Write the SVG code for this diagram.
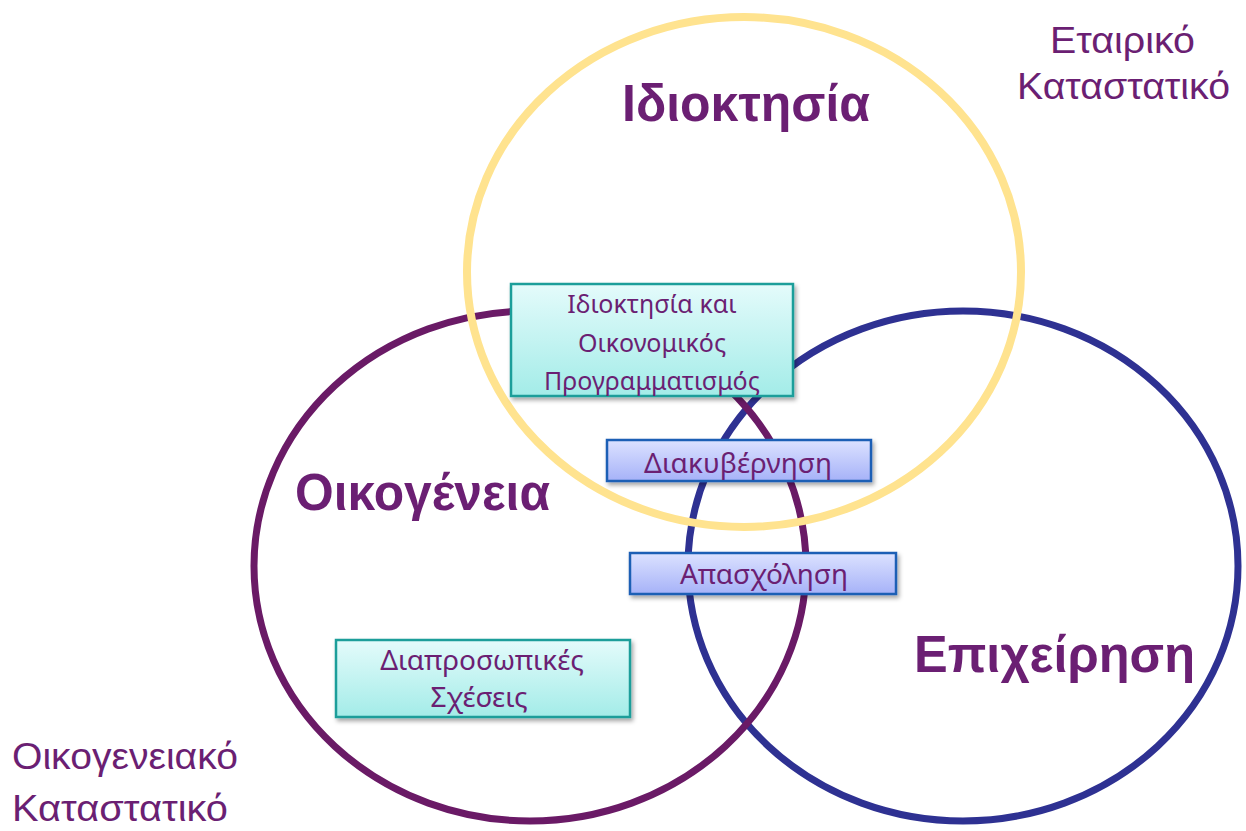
<svg xmlns="http://www.w3.org/2000/svg" width="1246" height="831" viewBox="0 0 1246 831">
<style>
.ring{fill:none}
.big{font-family:"Liberation Sans",Arial,sans-serif;font-weight:bold;font-size:52px;fill:#6B1F73}
.corner{font-family:"Liberation Sans",Arial,sans-serif;font-size:36px;fill:#6B1F73}
.bt{font-family:"Noto Sans","Open Sans",sans-serif;font-size:25px;fill:#6B1F73;text-anchor:middle}
.bt2{font-family:"Noto Sans","Open Sans",sans-serif;font-size:28px;fill:#6B1F73;text-anchor:middle}
.teal{fill:url(#gTeal);stroke:#1A9E9A;stroke-width:2.5;filter:url(#sh)}
.blu{fill:url(#gBlue);stroke:#1F5FB5;stroke-width:2.5;filter:url(#sh)}
</style>
<defs>
<linearGradient id="gTeal" x1="0" y1="0" x2="0" y2="1"><stop offset="0" stop-color="#E4FBFB"/><stop offset="1" stop-color="#A3ECE8"/></linearGradient>
<linearGradient id="gBlue" x1="0" y1="0" x2="0" y2="1"><stop offset="0" stop-color="#DCE2FF"/><stop offset="1" stop-color="#A6B2F8"/></linearGradient>
<filter id="sh" x="-10%" y="-20%" width="130%" height="150%"><feDropShadow dx="2" dy="3" stdDeviation="2" flood-color="#000" flood-opacity="0.35"/></filter>
</defs>
<rect width="1246" height="831" fill="#fff"/>
<g id="circles">
<ellipse id="c-business" class="ring" cx="963" cy="566" rx="275" ry="255" stroke="#2E3192" stroke-width="7"/>
<ellipse id="c-family" class="ring" cx="530" cy="566" rx="276" ry="255" stroke="#6A1A66" stroke-width="7"/>
<ellipse id="c-ownership" class="ring" cx="744" cy="272" rx="277" ry="255" stroke="#FFE38F" stroke-width="8"/>
</g>
<g id="labels">
<text class="big" x="622" y="121" textLength="248" lengthAdjust="spacingAndGlyphs">Ιδιοκτησία</text>
<text class="big" x="295" y="510" textLength="255" lengthAdjust="spacingAndGlyphs">Οικογένεια</text>
<text class="big" x="914" y="672" textLength="281" lengthAdjust="spacingAndGlyphs">Επιχείρηση</text>
<text class="corner" x="1050" y="53" textLength="145" lengthAdjust="spacingAndGlyphs">Εταιρικό</text>
<text class="corner" x="1017" y="99" textLength="213" lengthAdjust="spacingAndGlyphs">Καταστατικό</text>
<text class="corner" x="12" y="769" textLength="226" lengthAdjust="spacingAndGlyphs">Οικογενειακό</text>
<text class="corner" x="12" y="821" textLength="216" lengthAdjust="spacingAndGlyphs">Καταστατικό</text>
</g>
<g id="box-ownership">
<rect class="teal" x="511" y="284" width="282" height="112"/>
<text class="bt" x="652" y="313">Ιδιοκτησία και</text>
<text class="bt" x="652" y="352">Οικονομικός</text>
<text class="bt" x="652" y="390">Προγραμματισμός</text>
</g>
<g id="box-governance">
<rect class="blu" x="607" y="440" width="264" height="41"/>
<text class="bt2" x="738" y="473">Διακυβέρνηση</text>
</g>
<g id="box-employment">
<rect class="blu" x="630" y="553" width="266" height="41"/>
<text class="bt2" x="764" y="584">Απασχόληση</text>
</g>
<g id="box-relations">
<rect class="teal" x="336" y="640" width="294" height="77"/>
<text class="bt2" x="482" y="670">Διαπροσωπικές</text>
<text class="bt2" x="479" y="707">Σχέσεις</text>
</g>
<g id="connectors"/>
</svg>
